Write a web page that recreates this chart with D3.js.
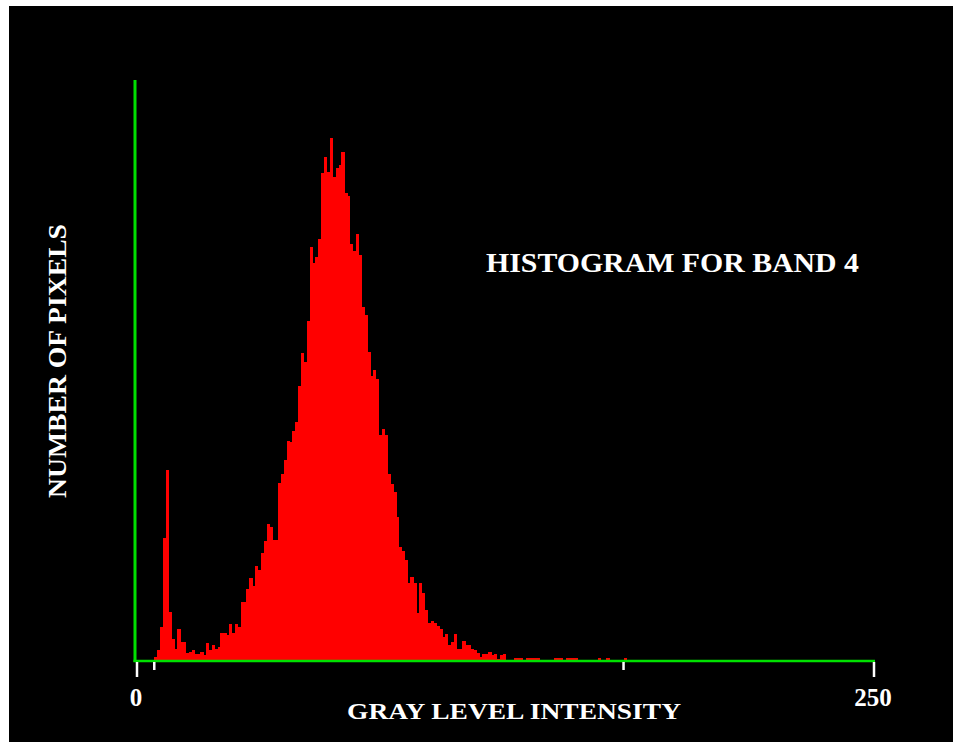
<!DOCTYPE html>
<html>
<head>
<meta charset="utf-8">
<script src="https://cdn.jsdelivr.net/npm/d3@7"></script>
<style>
  html, body { margin: 0; padding: 0; background: #fff; }
  svg { display: block; }
  .lbl { font-family: "Liberation Serif", "Times New Roman", serif; font-weight: bold; fill: #fff; }
</style>
</head>
<body>
<div id="chart"></div>
<script>
// pixel counts per gray level (index = gray level)
var pixelCounts = [
  0, 0, 0, 0, 0, 0, 3, 10, 33, 122,
  190, 48, 21, 11, 31, 18, 18, 7, 8, 10,
  6, 6, 8, 5, 17, 10, 15, 11, 13, 27,
  27, 25, 36, 27, 36, 33, 58, 58, 71, 82,
  74, 94, 90, 107, 119, 136, 133, 120, 120, 177,
  186, 200, 219, 218, 229, 238, 274, 307, 298, 339,
  413, 397, 403, 421, 487, 503, 488, 522, 483, 492,
  495, 508, 467, 464, 416, 409, 426, 405, 353, 345,
  308, 284, 290, 281, 225, 231, 225, 186, 176, 168,
  143, 113, 109, 100, 77, 83, 77, 47, 77, 67,
  50, 37, 39, 37, 34, 31, 23, 26, 15, 18,
  26, 11, 11, 19, 15, 15, 11, 10, 7, 3,
  6, 6, 8, 5, 6, 1, 5, 6, 0, 0,
  0, 2, 2, 2, 0, 2, 2, 2, 2, 2,
  0, 0, 0, 0, 0, 2, 2, 2, 0, 2,
  2, 2, 2, 0, 0, 0, 0, 0, 0, 0,
  2, 0, 0, 2, 0, 0, 0, 0, 0, 2
];

var majorTicks = [0, 256];
var majorTickLabels = ["0", "250"];
var minorTicks = [6, 169];

var title = "HISTOGRAM FOR BAND 4";
var xTitle = "GRAY LEVEL INTENSITY";
var yTitle = "NUMBER OF PIXELS";

var width = 953, height = 742;

var svg = d3.select("#chart")
  .append("svg")
  .attr("width", width)
  .attr("height", height);

// black panel
svg.append("rect")
  .attr("x", 9)
  .attr("y", 6)
  .attr("width", width - 9)
  .attr("height", height - 6)
  .attr("fill", "#000");

var x = d3.scaleLinear()
  .domain([0, 256])
  .range([137, 874]);

var y = d3.scaleLinear()
  .domain([0, 580])
  .range([660, 80]);

// histogram bars
svg.append("g")
  .attr("shape-rendering", "crispEdges")
  .selectAll("rect")
  .data(pixelCounts)
  .enter()
  .append("rect")
  .attr("x", function(d, i) { return x(i); })
  .attr("width", function(d, i) { return x(i + 1) - x(i) + 0.4; })
  .attr("y", function(d) { return y(d); })
  .attr("height", function(d) { return y(0) - y(d); })
  .attr("fill", "#ff0000");

// green axis lines
svg.append("line")
  .attr("x1", x(0) - 2).attr("x2", x(0) - 2)
  .attr("y1", y(580)).attr("y2", y(0) + 2)
  .attr("stroke", "#00e000")
  .attr("stroke-width", 3);

svg.append("line")
  .attr("x1", x(0) - 3.5).attr("x2", x(256) + 1)
  .attr("y1", y(0) + 1).attr("y2", y(0) + 1)
  .attr("stroke", "#00e000")
  .attr("stroke-width", 2.5);

// white tick marks
svg.append("g")
  .selectAll("line")
  .data(majorTicks)
  .enter()
  .append("line")
  .attr("x1", function(d) { return x(d); })
  .attr("x2", function(d) { return x(d); })
  .attr("y1", y(0) + 2)
  .attr("y2", y(0) + 17)
  .attr("stroke", "#fff")
  .attr("stroke-width", 2.5);

svg.append("g")
  .selectAll("line")
  .data(minorTicks)
  .enter()
  .append("line")
  .attr("x1", function(d) { return x(d); })
  .attr("x2", function(d) { return x(d); })
  .attr("y1", y(0) + 2)
  .attr("y2", y(0) + 10)
  .attr("stroke", "#fff")
  .attr("stroke-width", 2.5);

svg.append("g")
  .selectAll("text")
  .data(majorTicks)
  .enter()
  .append("text")
  .attr("class", "lbl")
  .attr("x", function(d) { return x(d) - 1; })
  .attr("y", 706)
  .attr("text-anchor", "middle")
  .style("font-size", "25px")
  .text(function(d, i) { return majorTickLabels[i]; });

// titles
svg.append("text")
  .attr("class", "lbl")
  .attr("x", 486)
  .attr("y", 272)
  .attr("textLength", 373)
  .attr("lengthAdjust", "spacingAndGlyphs")
  .style("font-size", "28px")
  .text(title);

svg.append("text")
  .attr("class", "lbl")
  .attr("x", 347)
  .attr("y", 719)
  .attr("textLength", 334)
  .attr("lengthAdjust", "spacingAndGlyphs")
  .style("font-size", "23px")
  .text(xTitle);

svg.append("text")
  .attr("class", "lbl")
  .attr("transform", "translate(66,498) rotate(-90)")
  .attr("textLength", 274)
  .attr("lengthAdjust", "spacingAndGlyphs")
  .style("font-size", "25px")
  .text(yTitle);
</script>
</body>
</html>
